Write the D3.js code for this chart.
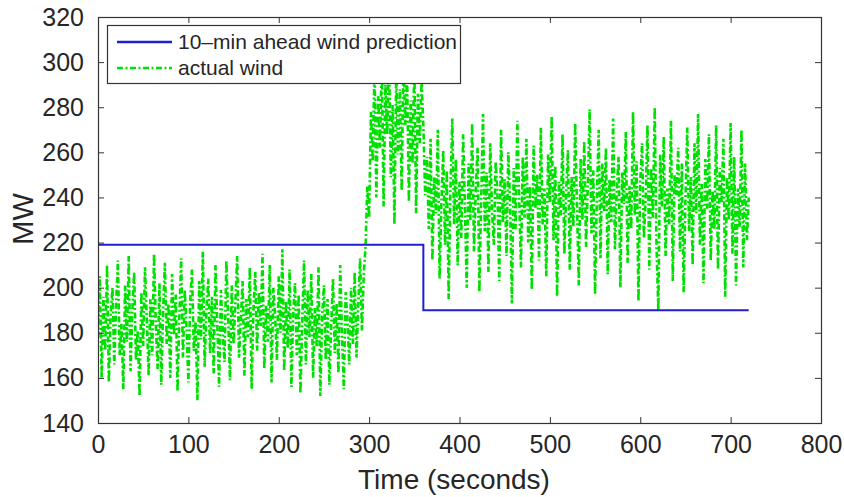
<!DOCTYPE html>
<html>
<head>
<meta charset="utf-8">
<script src="https://cdn.jsdelivr.net/npm/d3@7/dist/d3.min.js"></script>
<style>
html,body{margin:0;padding:0;background:#fff;}
svg{display:block;font-family:"Liberation Sans",Arial,Helvetica,sans-serif;}
</style>
</head>
<body>
<svg id="chart" width="844" height="497"></svg>
<script>
// ---- data ----
const xTicks = [0, 100, 200, 300, 400, 500, 600, 700, 800];
const yTicks = [140, 160, 180, 200, 220, 240, 260, 280, 300, 320];
const seriesNames = ["10\u2013min ahead wind prediction", "actual wind"];

// 10-min ahead prediction (step at 360 s)
const predTime = [0, 360, 720];
const predMW = [219, 190, 190];

// actual wind, sampled every 2 seconds from t = 0 to t = 720
const windStart = 0;
const windStep = 2;
const windMW = [
  178,205,160,196,172,210,158,188,200,166,
  192,212,170,184,155,201,176,214,163,190,
  207,168,181,152,198,174,209,186,161,195,
  170,215,183,164,202,157,189,211,175,193,
  160,206,179,197,154,187,213,169,199,182,
  158,194,208,172,185,150,203,177,216,165,
  190,204,171,196,162,210,184,156,199,180,
  167,212,188,159,201,175,193,214,169,186,
  203,161,195,178,209,155,190,207,172,198,
  183,215,164,192,176,210,158,200,187,168,
  205,180,217,163,194,173,208,156,189,202,
  170,197,153,185,212,166,199,178,206,160,
  191,174,209,152,187,201,168,195,157,183,
  204,171,193,162,210,179,155,198,186,166,
  200,175,207,169,192,213,181,205,
  218,245,231,278,256,298,240,285,262,302,
  236,290,268,305,249,281,228,296,259,288,
  243,303,272,294,238,283,255,300,233,286,
  264,292,
  272,241,258,226,266,212,249,233,270,204,
  238,261,219,252,195,244,275,228,257,210,
  247,222,268,236,200,255,230,273,216,243,
  262,198,239,277,225,251,207,264,234,219,
  256,242,203,270,229,248,214,260,237,193,
  253,226,274,240,209,258,231,266,220,245,
  199,263,235,250,212,271,228,244,205,259,
  238,276,221,254,196,247,232,268,215,242,
  261,208,249,227,273,236,201,257,230,265,
  218,246,279,224,252,197,240,270,213,255,
  234,262,206,248,229,275,217,243,258,200,
  251,237,269,211,245,226,278,232,256,194,
  247,264,222,239,272,208,253,231,280,218,
  190,259,236,267,214,244,228,274,203,250,
  241,262,216,255,198,238,271,225,249,210,
  264,233,277,219,246,202,257,235,268,212,
  243,226,272,208,253,238,266,196,249,230,
  273,215,258,201,244,227,270,209,255,221,
  240
];

// ---- layout ----
const plot = {left: 98, right: 821, top: 17, bottom: 423};
const axisColor = "#333";
const textColor = "#262626";
const blue = "#1f1fd0";
const green = "#00e000";
const greenDash = "6,2.5,2,2.5";

const svg = d3.select("#chart");
const x = d3.scaleLinear().domain([0, 800]).range([plot.left, plot.right]);
const y = d3.scaleLinear().domain([140, 320]).range([plot.bottom, plot.top]);

svg.append("defs").append("clipPath").attr("id", "clip")
  .append("rect")
  .attr("x", plot.left).attr("y", plot.top)
  .attr("width", plot.right - plot.left).attr("height", plot.bottom - plot.top);

const g = svg.append("g").attr("clip-path", "url(#clip)");

// actual wind
const windData = windMW.map((v, i) => ({t: windStart + i * windStep, v}));
g.append("path")
  .datum(windData)
  .attr("fill", "none")
  .attr("stroke", green)
  .attr("stroke-width", 2.6)
  .attr("stroke-dasharray", greenDash)
  .attr("d", d3.line().x(d => x(d.t)).y(d => y(d.v)));

// prediction
const predData = predTime.map((t, i) => ({t, v: predMW[i]}));
g.append("path")
  .datum(predData)
  .attr("fill", "none")
  .attr("stroke", blue)
  .attr("stroke-width", 2)
  .attr("d", d3.line().curve(d3.curveStepAfter).x(d => x(d.t)).y(d => y(d.v)));

// axes (inward ticks, box)
const tickLen = 6;
const axG = svg.append("g");
const fontTick = 25;

const axBottom = d3.axisBottom(x).tickValues(xTicks).tickSizeInner(-tickLen).tickSizeOuter(0).tickPadding(12);
const axTop = d3.axisTop(x).tickValues(xTicks).tickSizeInner(-tickLen).tickSizeOuter(0).tickFormat("");
const axLeft = d3.axisLeft(y).tickValues(yTicks).tickSizeInner(-tickLen).tickSizeOuter(0).tickPadding(14);
const axRight = d3.axisRight(y).tickValues(yTicks).tickSizeInner(-tickLen).tickSizeOuter(0).tickFormat("");

function styleAxis(sel) {
  sel.select(".domain").remove();
  sel.selectAll(".tick line").attr("stroke", axisColor).attr("stroke-width", 1);
  sel.selectAll(".tick text").attr("fill", textColor).attr("font-size", fontTick)
    .attr("font-family", "Liberation Sans, Arial, sans-serif");
}
axG.append("g").attr("transform", `translate(0,${plot.bottom})`).call(axBottom).call(styleAxis);
axG.append("g").attr("transform", `translate(0,${plot.top})`).call(axTop).call(styleAxis);
axG.append("g").attr("transform", `translate(${plot.left},0)`).call(axLeft).call(styleAxis);
axG.append("g").attr("transform", `translate(${plot.right},0)`).call(axRight).call(styleAxis);

svg.append("rect")
  .attr("x", plot.left + 0.5).attr("y", plot.top + 0.5)
  .attr("width", plot.right - plot.left).attr("height", plot.bottom - plot.top)
  .attr("fill", "none").attr("stroke", axisColor).attr("stroke-width", 1.2);

// axis labels
svg.append("text")
  .attr("x", 454).attr("y", 489)
  .attr("text-anchor", "middle")
  .attr("font-size", 28).attr("fill", textColor)
  .text("Time (seconds)");

svg.append("text")
  .attr("transform", "translate(33,219) rotate(-90)")
  .attr("text-anchor", "middle")
  .attr("font-size", 29).attr("fill", textColor)
  .text("MW");

// legend
const lg = svg.append("g");
lg.append("rect")
  .attr("x", 107.5).attr("y", 25.5).attr("width", 353).attr("height", 58)
  .attr("fill", "#fff").attr("stroke", axisColor).attr("stroke-width", 1.2);
const rows = [
  {name: seriesNames[0], color: blue, dash: null, yy: 42},
  {name: seriesNames[1], color: green, dash: greenDash, yy: 68}
];
rows.forEach(r => {
  lg.append("line")
    .attr("x1", 117).attr("x2", 172).attr("y1", r.yy).attr("y2", r.yy)
    .attr("stroke", r.color).attr("stroke-width", 2.4)
    .attr("stroke-dasharray", r.dash);
  lg.append("text")
    .attr("x", 178).attr("y", r.yy).attr("dy", "0.35em")
    .attr("font-size", 21).attr("fill", textColor)
    .text(r.name);
});
</script>
</body>
</html>
